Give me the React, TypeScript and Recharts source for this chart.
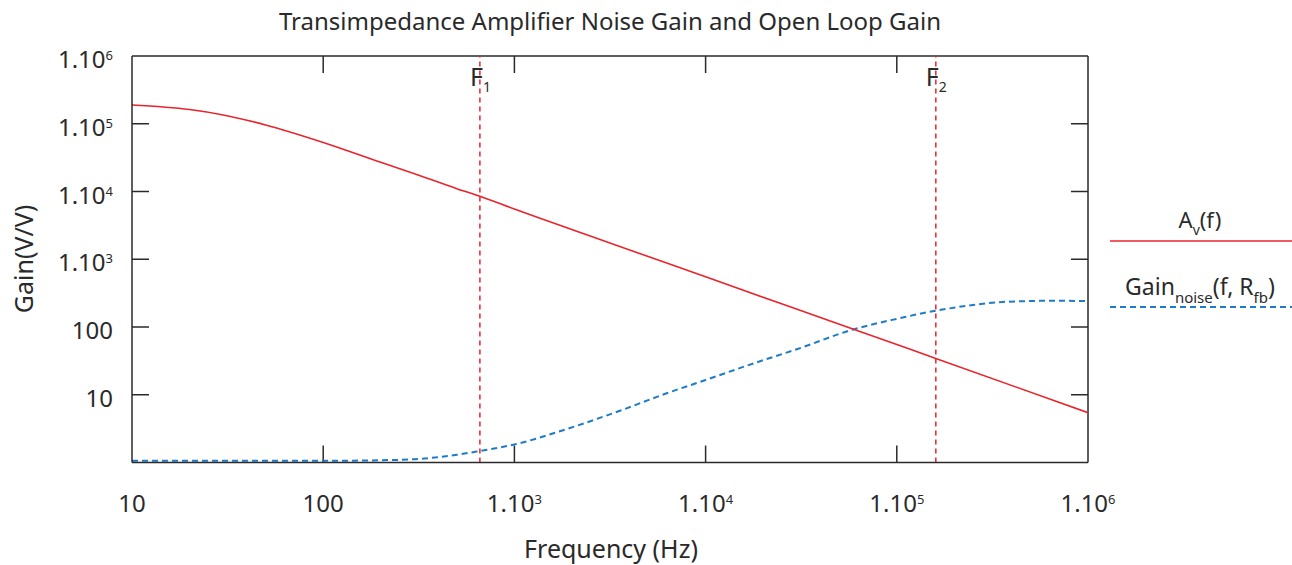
import React from 'react';
import { LineChart, Line, XAxis, YAxis, ReferenceLine } from 'recharts';

// ---------- data ----------
const avFreq = [10, 20, 30, 50, 100, 200, 300, 500, 660, 1000, 3000, 10000, 55000, 100000, 160000, 1000000];
const avGain = [189000, 162000, 135000, 96000, 53000, 27000, 18300, 11000, 8500, 5500, 1830, 550, 100, 55, 34.4, 5.43];

const noiseFreq = [10, 100, 200, 300, 500, 660, 875, 1000, 1800, 3560, 6250, 10000, 17800, 30000, 59200, 100000, 160000, 250000, 375000, 684000, 1000000];
const noiseGain = [1.06, 1.06, 1.08, 1.12, 1.3, 1.48, 1.71, 1.85, 3.0, 5.8, 10.5, 16.5, 29, 47, 92, 132, 174, 211, 236, 244, 241];

const xTicks = [10, 100, 1000, 10000, 100000, 1000000];
const xTickBase = ['10', '100', '1.10', '1.10', '1.10', '1.10'];
const xTickExp = ['', '', '3', '4', '5', '6'];

const yTicks = [10, 100, 1000, 10000, 100000, 1000000];
const yTickBase = ['10', '100', '1.10', '1.10', '1.10', '1.10'];
const yTickExp = ['', '', '3', '4', '5', '6'];

const markerFreqs = [660, 160000];
const markerSubs = ['1', '2'];

const avData = avFreq.map((f, i) => ({ f, g: avGain[i] }));
const noiseData = noiseFreq.map((f, i) => ({ f, g: noiseGain[i] }));

// ---------- style ----------
const FONT = '"Noto Sans", sans-serif';
const TEXT = '#2a2a2a';
const AXIS = '#2a2a2a';
const RED = '#e8242c';
const BLUE = '#1f7bc8';
const TICK_LEN = 17;
const X_MIN = 10;
const X_MAX = 1000000;
const Y_MIN = 1;
const Y_MAX = 1000000;

const TickText = ({ x, y, base, exp, anchor }: any) => (
  <text x={x} y={y} textAnchor={anchor} fontSize={24} fill={TEXT} fontFamily={FONT}>
    <tspan>{base}</tspan>
    {exp ? <tspan dy={-8} fontSize={13}>{exp}</tspan> : null}
  </text>
);

const BottomTick = (props: any) => {
  const { x, y, payload } = props;
  const i = xTicks.indexOf(payload.value);
  return <TickText x={x} y={y + 49} base={xTickBase[i]} exp={xTickExp[i]} anchor="middle" />;
};

const LeftTick = (props: any) => {
  const { x, y, payload } = props;
  const i = yTicks.indexOf(payload.value);
  return <TickText x={x - 19} y={y + 12} base={yTickBase[i]} exp={yTickExp[i]} anchor="end" />;
};

// inward tick marks at both ends of a full-span reference line
const VTickShape = (p: any) => {
  const x = p.x1;
  const top = Math.min(p.y1, p.y2);
  const bot = Math.max(p.y1, p.y2);
  return (
    <g>
      <line x1={x} x2={x} y1={top} y2={top + TICK_LEN} stroke={AXIS} strokeWidth={1.5} />
      <line x1={x} x2={x} y1={bot} y2={bot - TICK_LEN} stroke={AXIS} strokeWidth={1.5} />
    </g>
  );
};

const HTickShape = (p: any) => {
  const y = p.y1;
  const left = Math.min(p.x1, p.x2);
  const right = Math.max(p.x1, p.x2);
  return (
    <g>
      <line x1={left} x2={left + TICK_LEN} y1={y} y2={y} stroke={AXIS} strokeWidth={1.5} />
      <line x1={right} x2={right - TICK_LEN} y1={y} y2={y} stroke={AXIS} strokeWidth={1.5} />
    </g>
  );
};

const FLabel = (props: any) => {
  const vb = props.viewBox || {};
  const x = vb.x ?? 0;
  const y = vb.y ?? 0;
  return (
    <text x={x - 10} y={y + 30} fontSize={25} fill={TEXT} fontFamily={FONT}>
      <tspan>F</tspan>
      <tspan dy={6} fontSize={14}>{props.sub}</tspan>
    </text>
  );
};

export default function App() {
  return (
    <div style={{ position: 'absolute', left: 0, top: 0, width: 1292, height: 565, fontFamily: FONT, background: '#fff' }}>
      <LineChart width={1292} height={565} margin={{ top: 56, right: 204, bottom: 0, left: 32 }}>
        <XAxis
          dataKey="f"
          type="number"
          scale="log"
          domain={[X_MIN, X_MAX]}
          allowDataOverflow
          ticks={xTicks}
          interval={0}
          tickLine={false}
          tickSize={0}
          tickMargin={0}
          height={102.5}
          axisLine={{ stroke: AXIS, strokeWidth: 1.5 }}
          tick={<BottomTick />}
        />
        <YAxis
          type="number"
          scale="log"
          domain={[Y_MIN, Y_MAX]}
          allowDataOverflow
          ticks={yTicks}
          interval={0}
          tickLine={false}
          tickSize={0}
          tickMargin={0}
          width={100}
          axisLine={{ stroke: AXIS, strokeWidth: 1.5 }}
          tick={<LeftTick />}
        />
        {xTicks.slice(1, -1).map((t) => (
          <ReferenceLine key={'xt' + t} x={t} stroke={AXIS} shape={VTickShape} />
        ))}
        {yTicks.slice(0, -1).map((t) => (
          <ReferenceLine key={'yt' + t} y={t} stroke={AXIS} shape={HTickShape} />
        ))}
        <ReferenceLine y={Y_MAX} stroke={AXIS} strokeWidth={1.5} />
        <ReferenceLine x={X_MAX} stroke={AXIS} strokeWidth={1.5} />
        {markerFreqs.map((f, i) => (
          <ReferenceLine
            key={f}
            x={f}
            stroke={RED}
            strokeWidth={1.5}
            strokeDasharray="5 4"
            label={<FLabel sub={markerSubs[i]} />}
          />
        ))}
        <Line
          data={noiseData}
          dataKey="g"
          type="monotone"
          stroke={BLUE}
          strokeWidth={2}
          strokeDasharray="6 4"
          dot={false}
          activeDot={false}
          isAnimationActive={false}
        />
        <Line
          data={avData}
          dataKey="g"
          type="monotone"
          stroke={RED}
          strokeWidth={1.6}
          dot={false}
          activeDot={false}
          isAnimationActive={false}
        />
      </LineChart>
      <svg
        width={1292}
        height={565}
        style={{ position: 'absolute', left: 0, top: 0, pointerEvents: 'none' }}
      >
        <text x={610} y={30} textAnchor="middle" fontSize={24} fill={TEXT} fontFamily={FONT}>
          Transimpedance Amplifier Noise Gain and Open Loop Gain
        </text>
        <text
          x={23}
          y={259}
          textAnchor="middle"
          dominantBaseline="central"
          fontSize={25}
          fill={TEXT}
          fontFamily={FONT}
          transform="rotate(-90 23 259)"
        >
          Gain(V/V)
        </text>
        <text x={611} y={558} textAnchor="middle" fontSize={25} fill={TEXT} fontFamily={FONT}>
          Frequency (Hz)
        </text>
        <text x={1200} y={228} textAnchor="middle" fontSize={22} fill={TEXT} fontFamily={FONT}>
          <tspan>A</tspan>
          <tspan dy={7} fontSize={14}>v</tspan>
          <tspan dy={-7}>(f)</tspan>
        </text>
        <line x1={1110} x2={1292} y1={241} y2={241} stroke={RED} strokeWidth={1.6} />
        <text x={1200} y={295} textAnchor="middle" fontSize={23} fill={TEXT} fontFamily={FONT}>
          <tspan>Gain</tspan>
          <tspan dy={8} fontSize={15}>noise</tspan>
          <tspan dy={-8}>(f, R</tspan>
          <tspan dy={8} fontSize={15}>fb</tspan>
          <tspan dy={-8}>)</tspan>
        </text>
        <line x1={1110} x2={1292} y1={307} y2={307} stroke={BLUE} strokeWidth={2} strokeDasharray="6 4" />
      </svg>
    </div>
  );
}
